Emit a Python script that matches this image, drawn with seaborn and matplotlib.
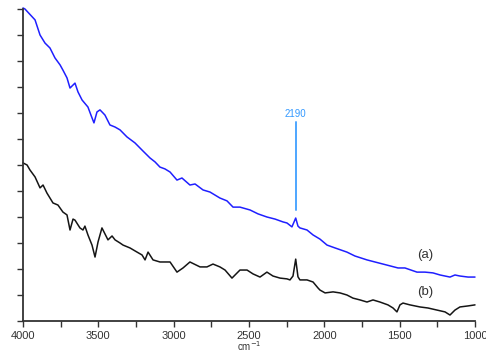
import matplotlib
matplotlib.use("Agg")
import matplotlib.pyplot as plt
import seaborn as sns
import pandas as pd

# Spectrum (a): wavenumber (cm-1) and relative intensity
wn_a = [4000, 3987, 3920, 3887, 3854, 3821, 3788, 3754, 3735, 3708, 3688, 3655,
        3635, 3608, 3569, 3549, 3529, 3509, 3489, 3469, 3456, 3423, 3389, 3356,
        3310, 3257, 3204, 3157, 3124, 3091, 3058, 3024, 2978, 2945, 2892, 2858,
        2805, 2759, 2693, 2646, 2606, 2560, 2493, 2440, 2381, 2327, 2274, 2248,
        2215, 2190, 2175, 2162, 2115, 2075, 2029, 1982, 1929, 1850, 1797, 1717,
        1664, 1584, 1511, 1465, 1385, 1332, 1279, 1232, 1166, 1133, 1100, 1046, 1000]
int_a = [12.04, 12.0, 11.58, 11.0, 10.69, 10.5, 10.12, 9.85, 9.65, 9.35, 8.96, 9.15,
         8.81, 8.5, 8.23, 7.92, 7.62, 8.04, 8.12, 8.0, 7.92, 7.54, 7.46, 7.35,
         7.08, 6.85, 6.54, 6.27, 6.12, 5.92, 5.85, 5.73, 5.42, 5.5, 5.23, 5.27,
         5.04, 4.96, 4.73, 4.62, 4.38, 4.38, 4.27, 4.12, 4.0, 3.92, 3.81, 3.77,
         3.62, 3.96, 3.65, 3.58, 3.5, 3.31, 3.15, 2.92, 2.81, 2.65, 2.5, 2.35,
         2.27, 2.15, 2.04, 2.04, 1.88, 1.88, 1.85, 1.77, 1.69, 1.77, 1.73, 1.69, 1.69]

# Spectrum (b)
wn_b = [4000, 3973, 3954, 3920, 3887, 3867, 3841, 3801, 3768, 3735, 3708, 3688,
        3668, 3655, 3622, 3602, 3589, 3569, 3542, 3522, 3502, 3476, 3456, 3436,
        3409, 3389, 3356, 3336, 3290, 3243, 3210, 3190, 3170, 3137, 3091, 3024,
        2978, 2938, 2892, 2878, 2825, 2779, 2739, 2693, 2659, 2613, 2560, 2513,
        2473, 2427, 2381, 2341, 2294, 2248, 2228, 2208, 2190, 2175, 2162, 2115,
        2075, 2042, 2029, 1995, 1942, 1896, 1850, 1810, 1763, 1717, 1677, 1631,
        1578, 1544, 1518, 1498, 1478, 1432, 1365, 1312, 1252, 1199, 1166, 1133,
        1100, 1046, 1000]
int_b = [6.08, 6.0, 5.81, 5.54, 5.12, 5.23, 4.92, 4.54, 4.46, 4.19, 4.08, 3.5,
         3.92, 3.88, 3.58, 3.5, 3.65, 3.31, 2.92, 2.46, 3.04, 3.58, 3.35, 3.12,
         3.27, 3.12, 3.0, 2.92, 2.81, 2.65, 2.54, 2.35, 2.65, 2.35, 2.27, 2.27,
         1.88, 2.04, 2.27, 2.23, 2.08, 2.08, 2.19, 2.08, 1.96, 1.65, 1.96, 1.96,
         1.81, 1.69, 1.88, 1.73, 1.65, 1.62, 1.58, 1.73, 2.38, 1.7, 1.58, 1.58,
         1.5, 1.27, 1.19, 1.08, 1.12, 1.08, 1.0, 0.88, 0.81, 0.73, 0.81, 0.73,
         0.62, 0.5, 0.35, 0.62, 0.69, 0.62, 0.54, 0.5, 0.42, 0.35, 0.23, 0.42,
         0.54, 0.58, 0.62]

peak_wn = 2190
peak_label = "2190"
x_ticks = [4000, 3750, 3500, 3250, 3000, 2750, 2500, 2250, 2000, 1750, 1500, 1250, 1000]
x_labels = ["4000", "", "3500", "", "3000", "", "2500", "", "2000", "", "1500", "", "1000"]

df = pd.concat([
    pd.DataFrame({"wn": wn_a, "I": int_a, "s": "(a)"}),
    pd.DataFrame({"wn": wn_b, "I": int_b, "s": "(b)"}),
])

sns.set_style("ticks")
plt.rcParams["font.family"] = ["Liberation Sans", "DejaVu Sans"]

fig = plt.figure(figsize=(4.86, 3.58), dpi=100)
ax = fig.add_axes([23 / 486, 1 - 321 / 358, 452 / 486, 312 / 358])

sns.lineplot(data=df, x="wn", y="I", hue="s", palette={"(a)": "#1f1fff", "(b)": "#151515"},
             linewidth=1.1, legend=False, ax=ax, sort=False, estimator=None)
for line in ax.lines:
    line.set_clip_on(False)

ax.set_xlim(4000, 1000)
ax.set_ylim(0, 12)
ax.set_xticks(x_ticks)
ax.set_xticklabels(x_labels)
ax.set_yticks(range(0, 13))
ax.set_yticklabels([])
ax.tick_params(axis="both", direction="out", length=4, width=1, color="#333333",
               labelsize=8, labelcolor="#333333", pad=3)
for side in ("left", "bottom"):
    ax.spines[side].set_color("#333333")
    ax.spines[side].set_linewidth(1.3)
sns.despine(ax=ax)
ax.set_ylabel("")
ax.set_xlabel(r"cm$^{-1}$", fontsize=7, color="#333333", labelpad=-1)

# marker for the 2190 band
ax.plot([peak_wn, peak_wn], [(321 - 210) / 26, (321 - 122) / 26], color="#4da6ff", lw=1.4)
ax.text(peak_wn, (321 - 114) / 26, peak_label, color="#3399ff", fontsize=7,
        ha="center", va="center")

ax.text(1330, (321 - 255) / 26, "(a)", fontsize=9.5, color="#333333", ha="center", va="center")
ax.text(1330, (321 - 292) / 26, "(b)", fontsize=9.5, color="#333333", ha="center", va="center")

fig.savefig("out.png", dpi=100)
